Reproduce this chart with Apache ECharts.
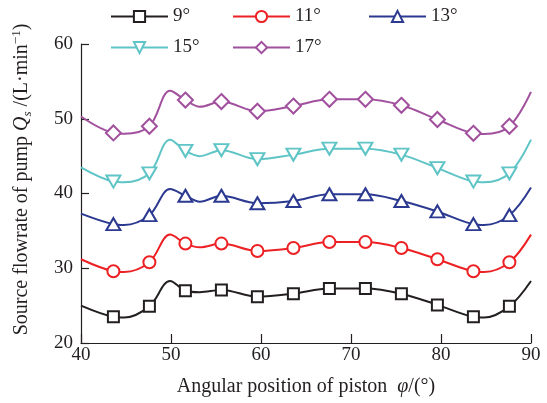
<!DOCTYPE html>
<html><head><meta charset="utf-8">
<script src="https://cdn.jsdelivr.net/npm/echarts@6/dist/echarts.min.js"></script>
<style>html,body{margin:0;padding:0;background:#fff}#c{width:547px;height:403px}</style>
</head><body><div id="c"></div>
<script>
// Angular position of piston (deg)
const angles = [40, 43.6, 44.8, 47.6, 49.9, 51.6, 53.2, 55.6, 59.6, 63.6, 67.6, 71.6, 75.6, 79.6, 83.6, 84.8, 87.6, 90];
const markerAngles = [43.6, 47.6, 51.6, 55.6, 59.6, 63.6, 67.6, 71.6, 75.6, 79.6, 83.6, 87.6];
const seriesNames = ['9°', '11°', '13°', '15°', '17°'];
const q9  = [25.0, 23.5, 23.4, 24.9, 28.3, 27.0, 26.8, 27.1, 26.2, 26.6, 27.3, 27.3, 26.6, 25.1, 23.5, 23.4, 24.9, 28.3];
const q11 = [31.2, 29.6, 29.5, 30.8, 34.5, 33.3, 32.8, 33.3, 32.3, 32.7, 33.5, 33.5, 32.7, 31.2, 29.6, 29.5, 30.8, 34.5];
const q13 = [37.3, 35.9, 35.8, 37.1, 40.6, 39.7, 38.9, 39.7, 38.7, 39.0, 39.9, 39.9, 39.0, 37.6, 35.9, 35.8, 37.1, 40.8];
const q15 = [43.5, 41.6, 41.5, 42.7, 47.2, 45.7, 45.0, 45.8, 44.6, 45.2, 46.0, 46.0, 45.2, 43.4, 41.6, 41.5, 42.7, 47.2];
const q17 = [50.3, 48.1, 48.0, 49.0, 53.75, 52.5, 51.6, 52.3, 51.0, 51.7, 52.6, 52.6, 51.8, 49.9, 48.05, 47.95, 49.0, 53.6];
const xTicks = [40, 50, 60, 70, 80, 90];
const yTicks = [20, 30, 40, 50, 60];

const allValues = [q9, q11, q13, q15, q17];
const colors = ['#231f20', '#ed2024', '#2b3990', '#5ec4c6', '#a1509e'];
const symbols = ['rect', 'circle', 'triangle', 'path://M0,0 L2,0 L1,1.75 Z', 'diamond'];
const symSizes = [[11,11], [12,12], [14,12], [14,12], [15,15]];
const legendPos = [[110, 7], [232, 7], [368, 7], [110, 38], [232, 38]];
const FONT = 'Liberation Serif';
const INK = '#231f20';

const chart = echarts.init(document.getElementById('c'), null, {renderer: 'canvas'});
const series = seriesNames.map((name, k) => ({
  name: name,
  type: 'line',
  smooth: 0.35,
  symbol: symbols[k],
  symbolSize: symSizes[k],
  showAllSymbol: true,
  lineStyle: {color: colors[k], width: 2},
  itemStyle: {color: '#fff', borderColor: colors[k], borderWidth: 2},
  emphasis: {disabled: true},
  z: 2 + k,
  data: angles.map((a, i) => ({
    value: [a, allValues[k][i]],
    symbol: markerAngles.includes(a) ? symbols[k] : 'none'
  }))
}));
const legends = seriesNames.map((name, k) => ({
  data: [name],
  left: legendPos[k][0],
  top: legendPos[k][1],
  padding: 0,
  itemWidth: 57,
  itemHeight: 14,
  itemGap: 5,
  selectedMode: false,
  textStyle: {fontFamily: FONT, fontSize: 19, color: INK}
}));
chart.setOption({
  animation: false,
  backgroundColor: '#fff',
  legend: legends,
  grid: {left: 81, right: 16, top: 44, bottom: 60},
  xAxis: {
    type: 'value', min: xTicks[0], max: xTicks[xTicks.length - 1], interval: 10,
    name: '{n|Angular position of piston  }{i|φ}{n|/(°)}',
    nameLocation: 'middle', nameGap: 34,
    nameTextStyle: {rich: {n: {fontFamily: FONT, fontSize: 20, color: INK}, i: {fontFamily: FONT, fontSize: 20, fontStyle: 'italic', color: INK}}},
    axisLine: {lineStyle: {color: INK, width: 1.2}},
    axisTick: {inside: true, length: 9, lineStyle: {color: INK, width: 1.2}},
    axisLabel: {fontFamily: FONT, fontSize: 19, color: INK, margin: 3},
    splitLine: {show: false}
  },
  yAxis: {
    type: 'value', min: yTicks[0], max: yTicks[yTicks.length - 1], interval: 10,
    name: '{n|Source flowrate of pump }{i|Q}{s|s}{n| /(L·min}{p|−1}{n|)}',
    nameLocation: 'middle', nameGap: 47,
    nameTextStyle: {padding: [0, 0, 0, 28], rich: {
      n: {fontFamily: FONT, fontSize: 20, color: INK, lineHeight: 24},
      i: {fontFamily: FONT, fontSize: 20, fontStyle: 'italic', color: INK, lineHeight: 24},
      s: {fontFamily: FONT, fontSize: 13, fontStyle: 'italic', color: INK, verticalAlign: 'bottom', lineHeight: 15},
      p: {fontFamily: FONT, fontSize: 13, color: INK, verticalAlign: 'top', lineHeight: 15}
    }},
    axisLine: {show: true, lineStyle: {color: INK, width: 1.2}},
    axisTick: {show: true, inside: true, length: 8, lineStyle: {color: INK, width: 1.2}},
    axisLabel: {fontFamily: FONT, fontSize: 19, color: INK, margin: 8},
    splitLine: {show: false}
  },
  series: series
});
</script></body></html>
